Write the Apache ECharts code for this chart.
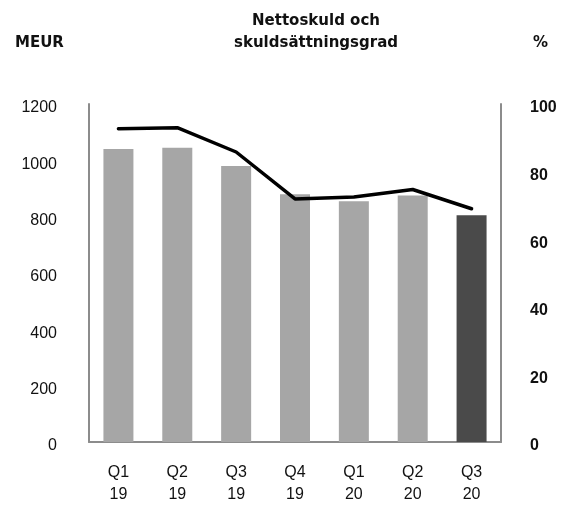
<!DOCTYPE html>
<html>
<head>
<meta charset="utf-8">
<script src="https://cdn.jsdelivr.net/npm/echarts@6/dist/echarts.min.js"></script>
<style>
  html, body { margin: 0; padding: 0; background: #fff; }
  #chart { width: 561px; height: 506px; }
</style>
</head>
<body>
<div id="chart"></div>
<script>
// kvartal
const quarters = ['Q1\n19', 'Q2\n19', 'Q3\n19', 'Q4\n19', 'Q1\n20', 'Q2\n20', 'Q3\n20']
// nettoskuld, MEUR
const netDebt = [1040, 1045, 980, 880, 855, 875, 805]
// skuldsättningsgrad, %
const gearing = [92.7, 93.0, 85.8, 71.9, 72.5, 74.7, 69.0]
const leftTicks = [0, 200, 400, 600, 800, 1000, 1200]
const rightTicks = [0, 20, 40, 60, 80, 100]

const axisGray = '#8c8c8c'
const lastIdx = netDebt.length - 1

const chart = echarts.init(document.getElementById('chart'))

chart.setOption({
  backgroundColor: '#fff',
  animation: false,
  graphic: [
    {
      type: 'text',
      x: 316,
      y: 10,
      style: {
        text: 'Nettoskuld och\nskuldsättningsgrad',
        fill: '#111',
        font: 'bold 15px "DejaVu Sans"',
        align: 'center',
        lineHeight: 22
      }
    },
    {
      type: 'text',
      x: 15,
      y: 36,
      style: { text: 'MEUR', fill: '#111', font: 'bold 15px "DejaVu Sans"' }
    },
    {
      type: 'text',
      x: 533,
      y: 36,
      style: { text: '%', fill: '#111', font: 'bold 15px "DejaVu Sans"' }
    }
  ],
  grid: {
    left: 89,
    right: 60,
    top: 104,
    bottom: 61,
    containLabel: false
  },
  xAxis: {
    type: 'category',
    data: quarters,
    axisTick: { show: false },
    axisLine: { lineStyle: { color: axisGray, width: 2 } },
    axisLabel: {
      color: '#111',
      fontFamily: 'Liberation Sans',
      fontSize: 16,
      lineHeight: 22,
      margin: 20
    }
  },
  yAxis: [
    {
      type: 'value',
      min: leftTicks[0],
      max: leftTicks[leftTicks.length - 1],
      interval: 200,
      axisLine: { show: true, lineStyle: { color: axisGray, width: 2 } },
      axisTick: { show: false },
      splitLine: { show: false },
      axisLabel: {
        color: '#111',
        fontFamily: 'Liberation Sans',
        fontSize: 16,
        margin: 32,
        verticalAlign: 'top',
        padding: [-4, 0, 0, 0],
        formatter: v => String(v)
      }
    },
    {
      type: 'value',
      min: rightTicks[0],
      max: rightTicks[rightTicks.length - 1],
      interval: 20,
      position: 'right',
      axisLine: { show: true, lineStyle: { color: axisGray, width: 2 } },
      axisTick: { show: false },
      splitLine: { show: false },
      axisLabel: {
        color: '#111',
        fontFamily: 'Liberation Sans',
        fontWeight: 'bold',
        fontSize: 16,
        margin: 29,
        verticalAlign: 'top',
        padding: [-4, 0, 0, 0],
        formatter: v => String(v)
      }
    }
  ],
  series: [
    {
      name: 'Nettoskuld',
      type: 'bar',
      barWidth: 30,
      data: netDebt.map((v, i) => ({
        value: v,
        itemStyle: { color: i === lastIdx ? '#4a4a4a' : '#a6a6a6' }
      }))
    },
    {
      name: 'Skuldsättningsgrad',
      type: 'line',
      yAxisIndex: 1,
      data: gearing,
      symbol: 'none',
      lineStyle: { color: '#000', width: 3.5, cap: 'round', join: 'round' }
    }
  ]
})
</script>
</body>
</html>
